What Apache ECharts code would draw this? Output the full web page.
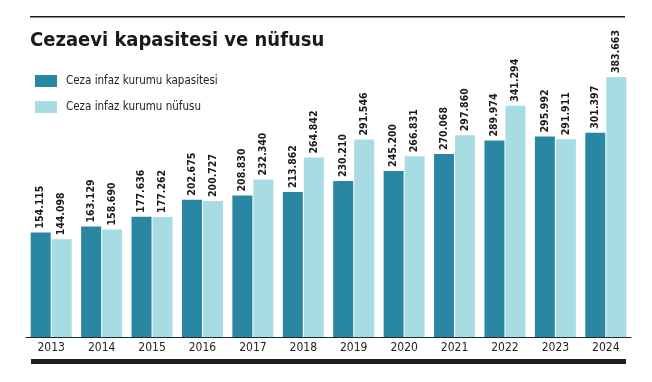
<!DOCTYPE html>
<html><head><meta charset="utf-8">
<script src="https://cdn.jsdelivr.net/npm/echarts@6/dist/echarts.min.js"></script>
<style>html,body{margin:0;padding:0;background:#fff}#c{width:652px;height:382px}</style>
</head><body><div id="c"></div>
<script>
const years = ['2013','2014','2015','2016','2017','2018','2019','2020','2021','2022','2023','2024'];
const kapasite = [154115,163129,177636,202675,208830,213862,230210,245200,270068,289974,295992,301397];
const nufus = [144098,158690,177262,200727,232340,264842,291546,266831,297860,341294,291911,383663];
const seriesNames = ['Ceza infaz kurumu kapasitesi','Ceza infaz kurumu nüfusu'];
const titleText = 'Cezaevi kapasitesi ve nüfusu';

const fmt = v => String(v).replace(/\B(?=(\d{3})+(?!\d))/g, '.');
const chart = echarts.init(document.getElementById('c'));
const labelCfg = {
  show: true, position: 'top', rotate: 90, align: 'left', verticalAlign: 'middle', distance: 4,
  fontFamily: 'DejaVu Sans Condensed', fontWeight: 'bold', fontSize: 10.5, color: '#1a1a1a',
  formatter: p => fmt(p.value)
};
chart.setOption({
  animation: false,
  title: { text: titleText, left: 25, top: 26,
    textStyle: { fontFamily: 'DejaVu Sans Condensed', fontWeight: 'bold', fontSize: 20, color: '#1a1a1a' } },
  legend: { orient: 'vertical', left: 30, top: 70, itemWidth: 22, itemHeight: 12, itemGap: 14, icon: 'rect',
    textStyle: { fontFamily: 'DejaVu Sans Condensed', fontSize: 11.5, color: '#222', lineHeight: 12, padding: [0,0,0,4] } },
  grid: { left: 26, width: 605, top: 66, bottom: 45 },
  xAxis: { type: 'category', data: years,
    axisLine: { lineStyle: { color: '#1a2a30', width: 1 } }, axisTick: { show: false },
    axisLabel: { margin: 5, fontFamily: 'DejaVu Sans Condensed', fontSize: 12, color: '#222' } },
  yAxis: { type: 'value', min: 0, max: 400000, show: false, splitLine: { show: false } },
  series: [
    { name: seriesNames[0], type: 'bar', data: kapasite, barWidth: 20, barGap: '5%', itemStyle: { color: '#2a87a4' }, label: labelCfg },
    { name: seriesNames[1], type: 'bar', data: nufus, barWidth: 20, barGap: '5%', itemStyle: { color: '#a7dce2' }, label: labelCfg }
  ],
  graphic: [
    { type: 'rect', shape: { x: 30, y: 16, width: 595, height: 1.5 }, style: { fill: '#1a1a1a' } },
    { type: 'rect', shape: { x: 31, y: 359, width: 595, height: 5 }, style: { fill: '#1e1e1e' } }
  ]
});
</script></body></html>
